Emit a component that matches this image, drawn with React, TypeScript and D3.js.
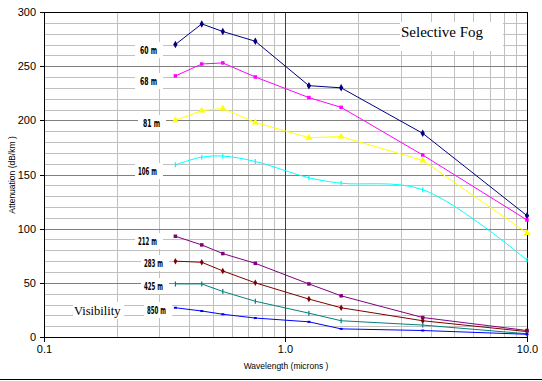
import React, { useEffect, useRef } from "react";
import * as d3 from "d3";

const wavelengths = [0.35, 0.45, 0.55, 0.75, 1.25, 1.7, 3.7, 10];
const seriesNames = ["60 m", "68 m", "81 m", "106 m", "212 m", "283 m", "425 m", "850 m"];
const v60 = [270, 289, 282, 273, 232, 230, 188, 112];
const v68 = [241, 252, 253, 240, 221, 212, 168, 108];
const v81 = [200, 209, 211, 198, 184, 185, 163, 96];
const v106 = [159, 166, 167, 162, 147, 142, 136, 71];
const v212 = [93, 85, 77, 68, 49, 38, 18, 6];
const v283 = [70, 69, 61, 50, 35, 27, 15, 5];
const v425 = [49, 49, 42, 33, 22, 15, 11, 3];
const v850 = [27, 24, 21, 17.5, 14, 7.5, 6, 2.5];
const yTicks = [0, 50, 100, 150, 200, 250, 300];
const xTickLabels = ["0.1", "1.0", "10.0"];
const xTickValues = [0.1, 1, 10];

const seriesValues = [v60, v68, v81, v106, v212, v283, v425, v850];
const colors = ["#000080", "#ff00ff", "#ffff00", "#00ffff", "#800080", "#800000", "#008080", "#0000ff"];
const markers = ["diamond", "square", "triangle", "plus", "square", "diamond", "plus", "dash"];
const labelPos = [
  [157, 50], [157, 81], [160, 123], [157, 171], [157, 241], [163, 263], [163, 286], [166, 310],
];

export default function App() {
  const ref = useRef<SVGSVGElement>(null);
  useEffect(() => {
    document.body.style.margin = "0";
    const svg = d3.select(ref.current);
    svg.selectAll("*").remove();
    const x = d3.scaleLog().domain([0.1, 10]).range([44, 527]);
    const y = d3.scaleLinear().domain([0, 300]).range([337, 12]);

    svg.append("rect").attr("width", 542).attr("height", 381).attr("fill", "#fff");

    const g = svg.append("g");
    d3.range(10, 300, 10).filter((v) => v % 50 !== 0).forEach((v) => {
      g.append("line").attr("x1", 44).attr("x2", 527).attr("y1", Math.round(y(v)) + 0.5).attr("y2", Math.round(y(v)) + 0.5)
        .attr("stroke", "#c0c0c0");
    });
    const minors: number[] = [];
    [0.1, 1].forEach((d) => { for (let k = 2; k <= 9; k++) minors.push(d * k); });
    minors.forEach((v) => {
      g.append("line").attr("x1", Math.round(x(v)) + 0.5).attr("x2", Math.round(x(v)) + 0.5).attr("y1", 12).attr("y2", 337)
        .attr("stroke", "#c0c0c0");
    });
    [50, 100, 150, 200, 250].forEach((v) => {
      g.append("line").attr("x1", 44).attr("x2", 527).attr("y1", Math.round(y(v)) + 0.5).attr("y2", Math.round(y(v)) + 0.5)
        .attr("stroke", "#808080");
    });
    g.append("line").attr("x1", Math.round(x(1)) + 0.5).attr("x2", Math.round(x(1)) + 0.5).attr("y1", 12).attr("y2", 337)
      .attr("stroke", "#404040");

    const boxes = g.append("g");
    boxes.append("rect").attr("x", 400).attr("y", 22).attr("width", 103).attr("height", 29).attr("fill", "#fff");
    boxes.append("rect").attr("x", 73).attr("y", 302).attr("width", 51).attr("height", 17).attr("fill", "#fff");
    labelPos.forEach(([lx, ly]) => {
      boxes.append("rect").attr("x", lx - 22).attr("y", ly - 8).attr("width", 28).attr("height", 16).attr("fill", "#fff");
    });

    svg.append("rect").attr("x", 44.5).attr("y", 12.5).attr("width", 483).attr("height", 325)
      .attr("fill", "none").attr("stroke", "#000");

    seriesValues.forEach((vals, i) => {
      const pts = wavelengths.map((w, j) => [x(w), y(vals[j])] as [number, number]);
      const line = d3.line().curve(i === 3 ? d3.curveCatmullRom : d3.curveLinear);
      svg.append("path").attr("d", line(pts)).attr("fill", "none").attr("stroke", colors[i]).attr("stroke-width", 1);
      const mg = svg.append("g");
      pts.forEach(([px, py]) => {
        const m = markers[i];
        if (m === "diamond") {
          mg.append("path").attr("d", d3.symbol(d3.symbolDiamond, i === 0 ? 16 : 12)()).attr("transform", `translate(${px},${py})`).attr("fill", colors[i]);
        } else if (m === "square") {
          mg.append("rect").attr("x", px - 1.75).attr("y", py - 1.75).attr("width", 3.5).attr("height", 3.5).attr("fill", colors[i]);
        } else if (m === "triangle") {
          mg.append("path").attr("d", d3.symbol(d3.symbolTriangle, 20)()).attr("transform", `translate(${px},${py})`).attr("fill", colors[i]);
        } else if (m === "plus") {
          mg.append("path").attr("d", `M${px},${py - 2.5}V${py + 2.5}`).attr("stroke", colors[i]).attr("stroke-width", 1.2);
        } else {
          mg.append("rect").attr("x", px - 1.5).attr("y", py - 1).attr("width", 3).attr("height", 2).attr("fill", colors[i]);
        }
      });
    });

    labelPos.forEach(([lx, ly], i) => {
      const name = seriesNames[i];
      svg.append("text").attr("x", lx).attr("y", ly).attr("dy", "0.35em").attr("text-anchor", "end")
        .attr("font-family", "'DejaVu Sans Condensed', 'Liberation Sans Narrow', sans-serif")
        .attr("font-weight", "bold").attr("font-size", 11).attr("fill", "#000")
        .attr("textLength", name.length > 4 ? 19 : 17).attr("lengthAdjust", "spacingAndGlyphs")
        .text(name);
    });

    svg.append("text").attr("x", 401).attr("y", 37).attr("font-family", "'Liberation Serif', serif").attr("font-size", 15)
      .attr("fill", "#000").text("Selective Fog");
    svg.append("text").attr("x", 74).attr("y", 315).attr("font-family", "'Liberation Serif', serif").attr("font-size", 12.5)
      .attr("fill", "#000").text("Visibility");

    yTicks.forEach((v) => {
      const yy = Math.round(y(v)) + 0.5;
      svg.append("line").attr("x1", 40).attr("x2", 44).attr("y1", yy).attr("y2", yy).attr("stroke", "#000");
      svg.append("text").attr("x", 36).attr("y", yy).attr("dy", "0.35em").attr("text-anchor", "end")
        .attr("font-family", "'Liberation Sans', Arial, sans-serif").attr("font-size", 11).attr("fill", "#000").text(String(v));
    });
    xTickValues.forEach((v, i) => {
      const xx = Math.round(x(v)) + 0.5;
      svg.append("line").attr("x1", xx).attr("x2", xx).attr("y1", 337).attr("y2", 342).attr("stroke", "#000");
      svg.append("text").attr("x", xx).attr("y", 349).attr("dy", "0.35em").attr("text-anchor", "middle")
        .attr("font-family", "'Liberation Sans', Arial, sans-serif").attr("font-size", 11).attr("fill", "#000").text(xTickLabels[i]);
    });

    svg.append("text").attr("x", 286).attr("y", 366).attr("dy", "0.35em").attr("text-anchor", "middle")
      .attr("font-family", "'Liberation Sans', Arial, sans-serif").attr("font-size", 8.5).attr("fill", "#000")
      .text("Wavelength (microns )");
    svg.append("text").attr("transform", "translate(12,175) rotate(-90)").attr("dy", "0.35em").attr("text-anchor", "middle")
      .attr("font-family", "'Liberation Sans', Arial, sans-serif").attr("font-size", 8.5).attr("fill", "#000")
      .text("Attenuation (dB/km )");

    svg.append("line").attr("x1", 0).attr("x2", 542).attr("y1", 379.5).attr("y2", 379.5).attr("stroke", "#000");
  }, []);
  return <svg ref={ref} width={542} height={381} style={{ display: "block" }} />;
}
